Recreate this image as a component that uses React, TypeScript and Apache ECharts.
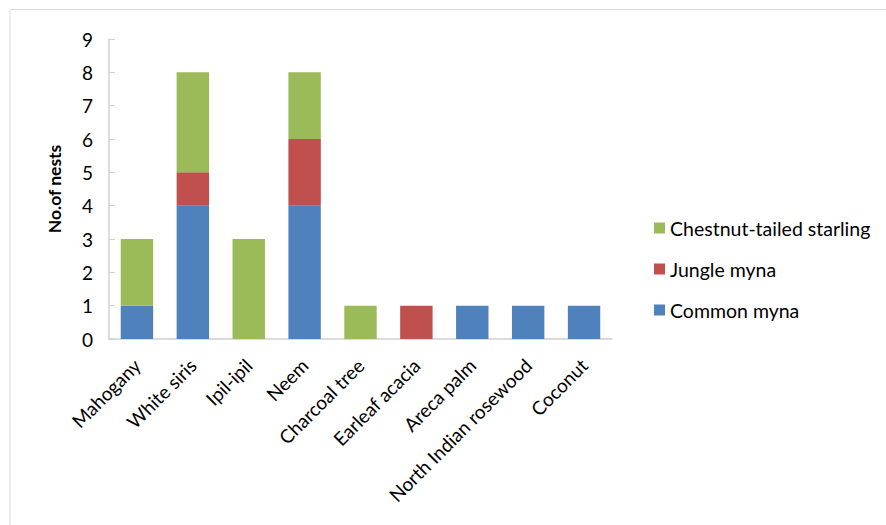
import React, { useEffect, useRef } from "react";
import * as echarts from "echarts";

const categories = [
  "Mahogany",
  "White siris",
  "Ipil-ipil",
  "Neem",
  "Charcoal tree",
  "Earleaf acacia",
  "Areca palm",
  "North Indian rosewood",
  "Coconut",
];
const commonMyna = [1, 4, 0, 4, 0, 0, 1, 1, 1];
const jungleMyna = [0, 1, 0, 2, 0, 1, 0, 0, 0];
const chestnutStarling = [2, 3, 3, 2, 1, 0, 0, 0, 0];
const yTicks = [0, 9, 1]; // min, max, interval

const FONT = "Lato, 'Open Sans', sans-serif";

export default function App() {
  const ref = useRef<HTMLDivElement>(null);
  useEffect(() => {
    if (!ref.current) return;
    const chart = echarts.init(ref.current, undefined, { renderer: "svg" });
    const barStyle = (color: string) => ({ color });
    chart.setOption({
      animation: false,
      backgroundColor: "#ffffff",
      graphic: [
        {
          type: "rect",
          shape: { x: 10, y: 9.5, width: 900, height: 540 },
          style: { fill: "none", stroke: "#d9d9d9", lineWidth: 1 },
          silent: true,
        },
      ],
      grid: { left: 109, right: 274, top: 39, bottom: 186, containLabel: false },
      legend: {
        orient: "vertical",
        left: 649,
        top: 213,
        data: ["Chestnut-tailed starling", "Jungle myna", "Common myna"],
        icon: "rect",
        itemWidth: 11,
        itemHeight: 11,
        itemGap: 21,
        textStyle: { fontFamily: FONT, fontSize: 19.5, color: "#000", lineHeight: 20 },
      },
      xAxis: {
        type: "category",
        data: categories,
        axisLine: { lineStyle: { color: "#d0d0d0", width: 1.5 } },
        axisTick: { show: false },
        axisLabel: {
          rotate: 45,
          interval: 0,
          margin: 23,
          fontFamily: FONT,
          fontSize: 19,
          color: "#000",
        },
      },
      yAxis: {
        type: "value",
        min: yTicks[0],
        max: yTicks[1],
        interval: yTicks[2],
        name: "No.of nests",
        nameLocation: "middle",
        nameGap: 46,
        nameTextStyle: { fontFamily: FONT, fontSize: 17.5, fontWeight: "bold", color: "#000" },
        axisLine: { show: true, lineStyle: { color: "#d0d0d0", width: 1.5 } },
        axisTick: { show: true, inside: true, length: 6, lineStyle: { color: "#d0d0d0" } },
        splitLine: { show: false },
        axisLabel: { margin: 16, fontFamily: FONT, fontSize: 19, color: "#000" },
      },
      series: [
        {
          name: "Common myna",
          type: "bar",
          stack: "nests",
          barWidth: "58%",
          data: commonMyna,
          itemStyle: barStyle("#4F81BD"),
        },
        {
          name: "Jungle myna",
          type: "bar",
          stack: "nests",
          data: jungleMyna,
          itemStyle: barStyle("#C0504D"),
        },
        {
          name: "Chestnut-tailed starling",
          type: "bar",
          stack: "nests",
          data: chestnutStarling,
          itemStyle: barStyle("#9BBB59"),
        },
      ],
    });
    return () => chart.dispose();
  }, []);
  return (
    <div
      ref={ref}
      style={{ position: "fixed", left: 0, top: 0, width: 886, height: 525 }}
    />
  );
}
